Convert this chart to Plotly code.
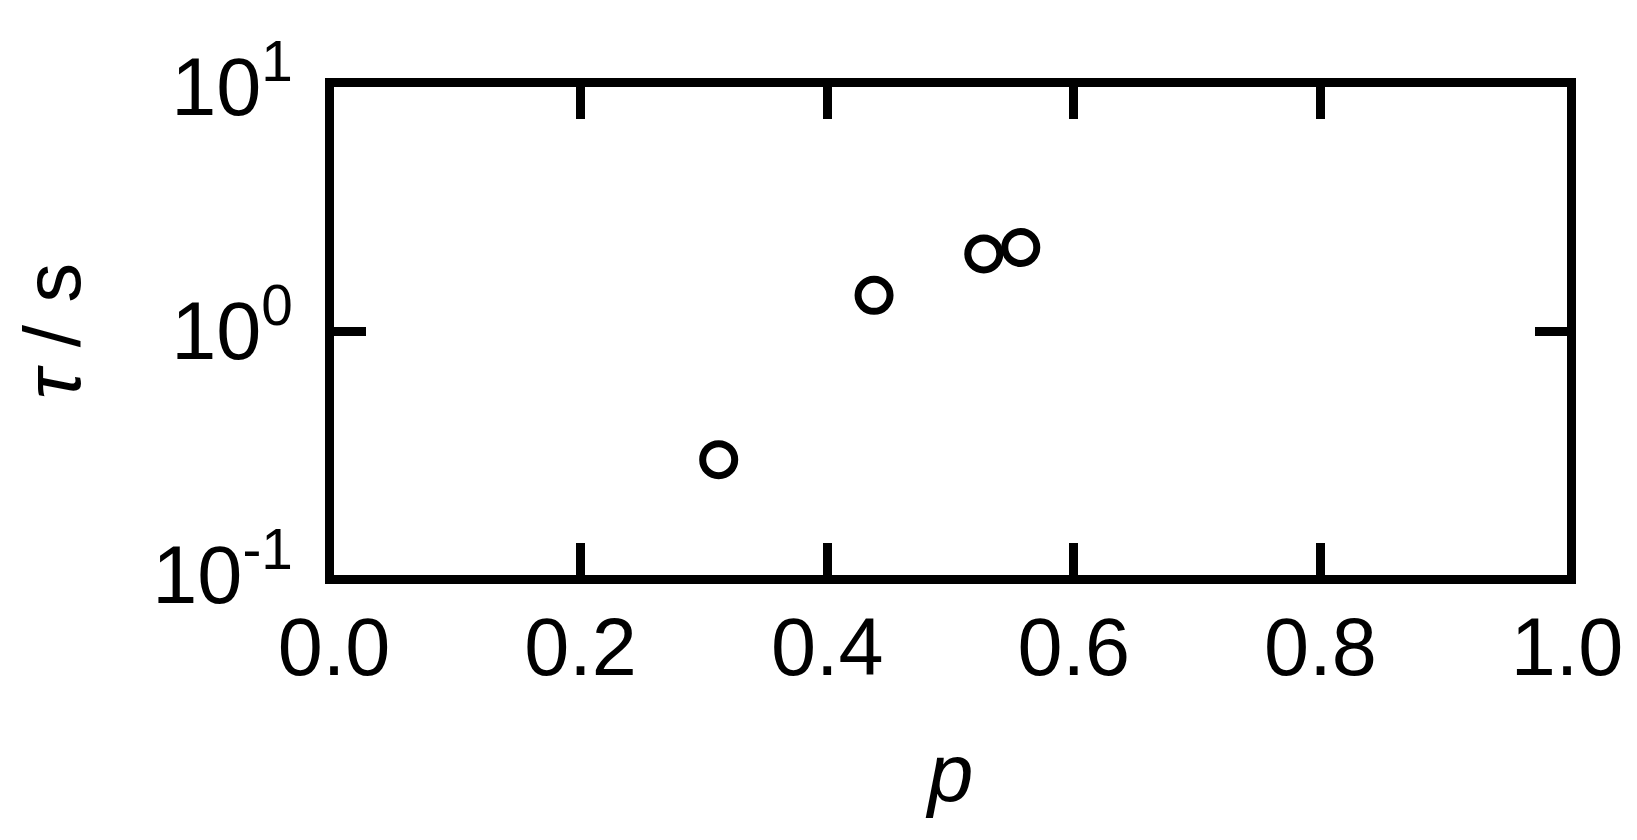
import plotly.graph_objects as go

p_values = [0.312, 0.438, 0.527, 0.557]
tau_values = [0.297, 1.40, 2.07, 2.20]

x_tickvals = [0.0, 0.2, 0.4, 0.6, 0.8, 1.0]
x_ticktext = ["0.0", "0.2", "0.4", "0.6", "0.8", "1.0"]
y_tickvals = [0.1, 1, 10]
y_ticktext = ["10<sup>-1</sup>", "10<sup>0</sup>", "10<sup>1</sup>"]

FONT = "Liberation Sans, Arial, sans-serif"

fig = go.Figure()

fig.add_trace(
    go.Scatter(
        x=p_values,
        y=tau_values,
        mode='markers',
        marker=dict(symbol='circle', size=32, color='rgba(0,0,0,0)',
                    line=dict(color='black', width=7)),
        showlegend=False
    )
)

axis_style = dict(
    showline=True,
    linecolor='black',
    linewidth=9,
    mirror='ticks',
    ticks='inside',
    ticklen=32,
    tickwidth=9,
    tickcolor='black',
    showgrid=False,
    zeroline=False,
    tickfont=dict(family=FONT, size=81, color='black'),
)

fig.update_xaxes(
    range=[0, 1],
    tickvals=x_tickvals,
    ticktext=x_ticktext,
    ticklabelstandoff=-6,
    title=dict(text='<i>p</i>', font=dict(family=FONT, size=82, color='black'), standoff=56),
    **axis_style
)
fig.update_yaxes(
    type='log',
    range=[-1, 1],
    tickvals=y_tickvals,
    ticktext=y_ticktext,
    ticklabelstandoff=16,
    title=dict(text='<i>τ</i> / s', font=dict(family=FONT, size=80, color='black'), standoff=60),
    **axis_style
)

fig.update_layout(
    width=1637,
    height=840,
    margin=dict(l=326, r=78, t=79, b=273),
    paper_bgcolor='white',
    plot_bgcolor='white',
)

fig.write_html("out.html")
